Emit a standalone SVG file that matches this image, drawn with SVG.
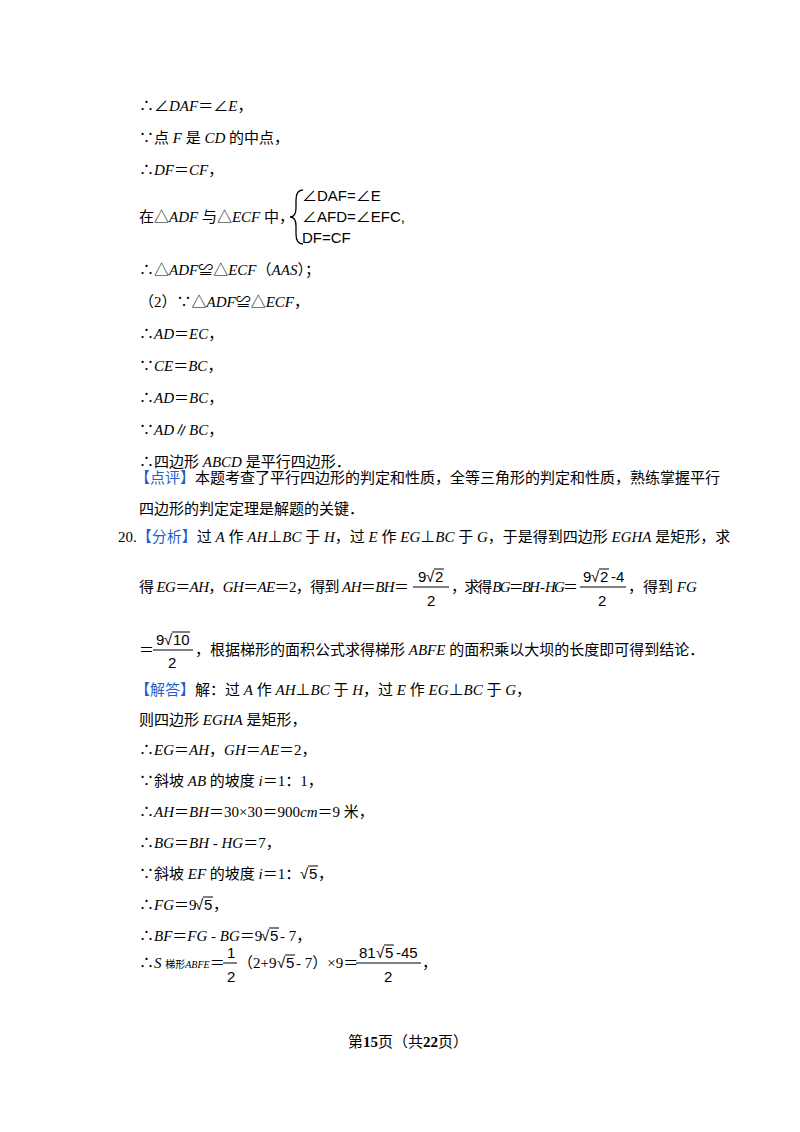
<svg xmlns="http://www.w3.org/2000/svg" width="800" height="1132" viewBox="0 0 800 1132">
<style>
text{font-family:"Liberation Serif","Noto Sans CJK SC",serif;font-size:15px;fill:#000}
.i{font-style:italic}
.b{fill:#1F5FC8}
.m{font-family:"Liberation Sans","Noto Sans CJK SC",sans-serif;font-size:15px}
.ol{stroke:#000;stroke-width:1}
</style>
<rect width="800" height="1132" fill="#fff"/>
<text x="139" y="111">∴∠<tspan class="i">DAF</tspan>＝∠<tspan class="i">E</tspan>，</text>
<text x="139" y="143">∵点 <tspan class="i">F</tspan> 是 <tspan class="i">CD</tspan> 的中点，</text>
<text x="139" y="175">∴<tspan class="i">DF</tspan>＝<tspan class="i">CF</tspan>，</text>
<text x="139" y="222">在△<tspan class="i">ADF</tspan> 与△<tspan class="i">ECF</tspan> 中，</text>
<path d="M303,190 Q296,190 296,200 L296,208 Q296,217 290,217 Q296,217 296,226 L296,234 Q296,244 303,244" fill="none" stroke="#000" stroke-width="1.3"/>
<text class="m" x="302" y="201">∠DAF=∠E</text>
<text class="m" x="302" y="222">∠AFD=∠EFC,</text>
<text class="m" x="302" y="243">DF=CF</text>
<text x="139" y="275">∴△<tspan class="i">ADF</tspan>≌△<tspan class="i">ECF</tspan>（<tspan class="i">AAS</tspan>）；</text>
<text x="139" y="307">（2）∵△<tspan class="i">ADF</tspan>≌△<tspan class="i">ECF</tspan>，</text>
<text x="139" y="339">∴<tspan class="i">AD</tspan>＝<tspan class="i">EC</tspan>，</text>
<text x="139" y="371">∵<tspan class="i">CE</tspan>＝<tspan class="i">BC</tspan>，</text>
<text x="139" y="403">∴<tspan class="i">AD</tspan>＝<tspan class="i">BC</tspan>，</text>
<text x="139" y="435">∵<tspan class="i">AD</tspan>∥<tspan class="i">BC</tspan>，</text>
<text x="139" y="467">∴四边形 <tspan class="i">ABCD</tspan> 是平行四边形．</text>
<text x="135" y="483"><tspan class="b">【点评】</tspan>本题考查了平行四边形的判定和性质，全等三角形的判定和性质，熟练掌握平行</text>
<text x="139" y="514">四边形的判定定理是解题的关键．</text>
<text x="118" y="542">20.<tspan class="b">【分析】</tspan>过 <tspan class="i">A</tspan> 作 <tspan class="i">AH</tspan>⊥<tspan class="i">BC</tspan> 于 <tspan class="i">H</tspan>，过 <tspan class="i">E</tspan> 作 <tspan class="i">EG</tspan>⊥<tspan class="i">BC</tspan> 于 <tspan class="i">G</tspan>，于是得到四边形 <tspan class="i">EGHA</tspan> 是矩形，求</text>
<text x="139" y="592" textLength="270">得 <tspan class="i">EG</tspan>＝<tspan class="i">AH</tspan>，<tspan class="i">GH</tspan>＝<tspan class="i">AE</tspan>＝2，得到 <tspan class="i">AH</tspan>＝<tspan class="i">BH</tspan>＝</text>
<text class="m" y="582"><tspan x="418">9</tspan><tspan x="426">√</tspan><tspan x="435">2</tspan></text><line class="ol" x1="434" y1="569" x2="444" y2="569"/>
<line class="ol" x1="413" y1="587" x2="449" y2="587"/>
<text class="m" x="427" y="606">2</text>
<text x="451" y="592" textLength="127">，求得 <tspan class="i">BG</tspan>＝<tspan class="i">BH</tspan> - <tspan class="i">HG</tspan>＝</text>
<text class="m" y="582"><tspan x="583">9</tspan><tspan x="591">√</tspan><tspan x="600">2</tspan><tspan x="611">-4</tspan></text><line class="ol" x1="599" y1="569" x2="609" y2="569"/>
<line class="ol" x1="580" y1="587" x2="626" y2="587"/>
<text class="m" x="598" y="606">2</text>
<text x="628" y="592">，得到 <tspan class="i">FG</tspan></text>
<text x="139" y="655">＝</text>
<text class="m" y="645"><tspan x="156">9</tspan><tspan x="164">√</tspan><tspan x="173">10</tspan></text><line class="ol" x1="172" y1="632" x2="190" y2="632"/>
<line class="ol" x1="153" y1="650" x2="193" y2="650"/>
<text class="m" x="168" y="668">2</text>
<text x="195" y="655">，根据梯形的面积公式求得梯形 <tspan class="i">ABFE</tspan> 的面积乘以大坝的长度即可得到结论．</text>
<text x="135" y="695"><tspan class="b">【解答】</tspan>解：过 <tspan class="i">A</tspan> 作 <tspan class="i">AH</tspan>⊥<tspan class="i">BC</tspan> 于 <tspan class="i">H</tspan>，过 <tspan class="i">E</tspan> 作 <tspan class="i">EG</tspan>⊥<tspan class="i">BC</tspan> 于 <tspan class="i">G</tspan>，</text>
<text x="139" y="725">则四边形 <tspan class="i">EGHA</tspan> 是矩形，</text>
<text x="139" y="755">∴<tspan class="i">EG</tspan>＝<tspan class="i">AH</tspan>，<tspan class="i">GH</tspan>＝<tspan class="i">AE</tspan>＝2，</text>
<text x="139" y="786">∵斜坡 <tspan class="i">AB</tspan> 的坡度 <tspan class="i">i</tspan>＝1：1，</text>
<text x="139" y="817">∴<tspan class="i">AH</tspan>＝<tspan class="i">BH</tspan>＝30×30＝900<tspan class="i">cm</tspan>＝9 米，</text>
<text x="139" y="848">∴<tspan class="i">BG</tspan>＝<tspan class="i">BH</tspan> - <tspan class="i">HG</tspan>＝7，</text>
<text x="139" y="879">∵斜坡 <tspan class="i">EF</tspan> 的坡度 <tspan class="i">i</tspan>＝1：</text>
<text class="m" y="879"><tspan x="300">√</tspan><tspan x="309">5</tspan></text><line class="ol" x1="308" y1="866" x2="318" y2="866"/>
<text x="318" y="879">，</text>
<text x="139" y="910">∴<tspan class="i">FG</tspan>＝9</text>
<text class="m" y="910"><tspan x="195">√</tspan><tspan x="204">5</tspan></text><line class="ol" x1="203" y1="897" x2="213" y2="897"/>
<text x="213" y="910">，</text>
<text x="139" y="941">∴<tspan class="i">BF</tspan>＝<tspan class="i">FG</tspan> - <tspan class="i">BG</tspan>＝9</text>
<text class="m" y="941"><tspan x="261">√</tspan><tspan x="270">5</tspan></text><line class="ol" x1="269" y1="928" x2="279" y2="928"/>
<text x="280" y="941"> - 7，</text>
<text x="139" y="968">∴<tspan class="i">S</tspan> <tspan font-size="10">梯形</tspan><tspan class="i" font-size="10">ABFE</tspan>＝</text>
<text class="m" x="227" y="958">1</text><line class="ol" x1="223" y1="963" x2="237" y2="963"/>
<text class="m" x="227" y="982">2</text>
<text x="238" y="968">（2+9</text>
<text class="m" y="968"><tspan x="277">√</tspan><tspan x="286">5</tspan></text><line class="ol" x1="285" y1="955" x2="295" y2="955"/>
<text x="296" y="968"> - 7）×9＝</text>
<text class="m" y="958"><tspan x="359">81</tspan><tspan x="376">√</tspan><tspan x="385">5</tspan><tspan x="396">-45</tspan></text><line class="ol" x1="384" y1="945" x2="394" y2="945"/>
<line class="ol" x1="356" y1="963" x2="421" y2="963"/>
<text class="m" x="384" y="982">2</text>
<text x="422" y="968">，</text>
<text x="348" y="1047" font-size="13">第<tspan font-weight="bold" font-size="15">15</tspan>页（共<tspan font-weight="bold" font-size="15">22</tspan>页）</text>
</svg>
